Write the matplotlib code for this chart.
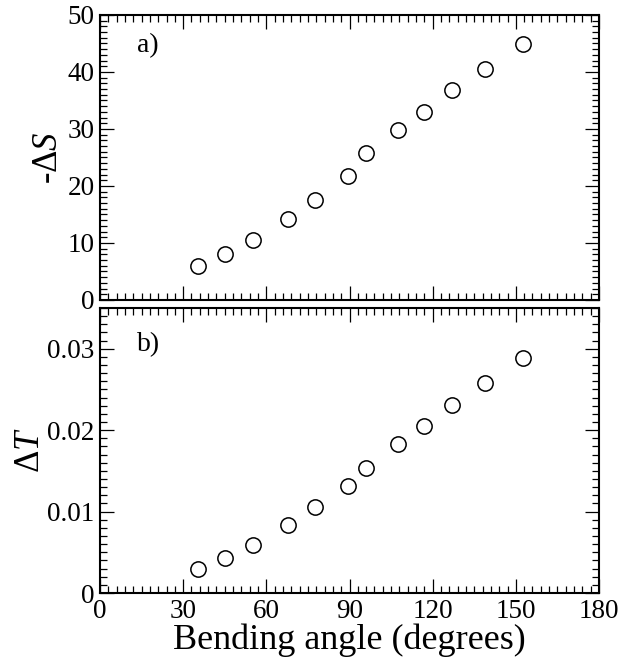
import matplotlib
matplotlib.use('Agg')
import matplotlib.pyplot as plt
from matplotlib.ticker import MultipleLocator

plt.rcParams['font.family'] = ['Liberation Serif', 'DejaVu Serif']
plt.rcParams['mathtext.fontset'] = 'custom'
plt.rcParams['mathtext.rm'] = 'Liberation Serif'
plt.rcParams['mathtext.it'] = 'Liberation Serif:italic'

# bending angle (degrees)
angles = [35.5, 45.1, 55.3, 67.7, 77.6, 89.3, 96.1, 107.5, 116.9, 127.1, 139.0, 152.5]
# -Delta S
neg_dS = [6.0, 8.1, 10.6, 14.2, 17.5, 21.8, 25.8, 29.8, 32.9, 36.8, 40.6, 44.9]
# Delta T
dT = [0.0029, 0.0043, 0.0059, 0.0083, 0.0106, 0.0132, 0.0153, 0.0183,
      0.0205, 0.0231, 0.0258, 0.0288]

fig = plt.figure(figsize=(6.35, 6.57), dpi=100)
ax1 = fig.add_axes([0.1575, 0.5434, 0.7858, 0.4338])
ax2 = fig.add_axes([0.1575, 0.0974, 0.7858, 0.4338])


def style_axes(ax):
    for sp in ax.spines.values():
        sp.set_linewidth(1.5)
    ax.tick_params(which='both', direction='in', top=True, right=True,
                   width=0.9, labelsize=19.5)
    ax.tick_params(which='major', length=10, pad=4)
    ax.tick_params(which='minor', length=5)
    ax.set_xlim(0, 180)
    ax.xaxis.set_major_locator(MultipleLocator(30))
    ax.xaxis.set_minor_locator(MultipleLocator(3))


style_axes(ax1)
ax1.plot(angles, neg_dS, 'o', ms=11, mfc='none', mec='black', mew=1.1)
ax1.set_ylim(0, 50)
ax1.yaxis.set_major_locator(MultipleLocator(10))
ax1.yaxis.set_minor_locator(MultipleLocator(1))
ax1.tick_params(labelbottom=False)
ax1.set_ylabel(r'-$\Delta S$', fontsize=25, labelpad=2)
ax1.text(0.075, 0.87, 'a)', transform=ax1.transAxes, fontsize=20)

style_axes(ax2)
ax2.plot(angles, dT, 'o', ms=11, mfc='none', mec='black', mew=1.1)
ax2.set_ylim(0, 0.035)
ax2.yaxis.set_major_locator(MultipleLocator(0.01))
ax2.yaxis.set_minor_locator(MultipleLocator(0.001))
ax2.set_yticks([0, 0.01, 0.02, 0.03])
ax2.set_yticklabels(['0', '0.01', '0.02', '0.03'])
ax2.set_ylabel(r'$\Delta T$', fontsize=25, labelpad=0)
ax2.set_xlabel('Bending angle (degrees)', fontsize=26, labelpad=0)
ax2.text(0.075, 0.85, 'b)', transform=ax2.transAxes, fontsize=20)

fig.savefig('out.png', dpi=100)
